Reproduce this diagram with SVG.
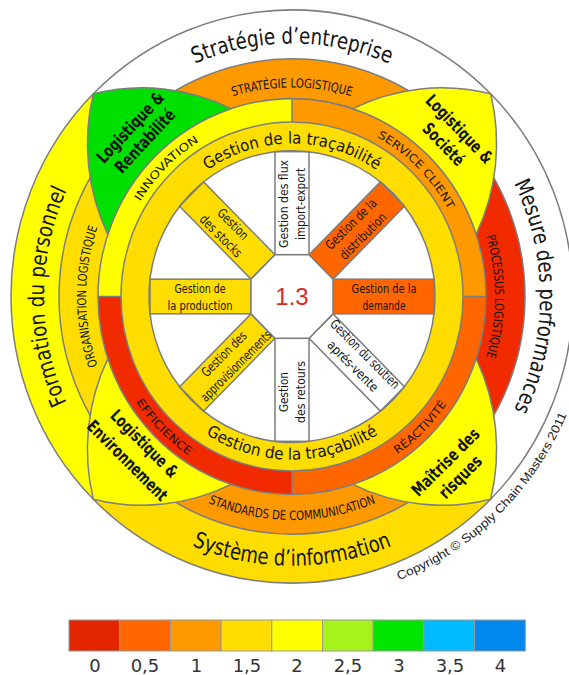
<svg xmlns="http://www.w3.org/2000/svg" width="569" height="675" viewBox="0 0 569 675">
<style>
.ln{stroke:#7d7d7d;stroke-width:1.5}
.nf{fill:none}
.f{font-family:'Liberation Sans Narrow','DejaVu Sans Condensed','Liberation Sans','DejaVu Sans',sans-serif;font-stretch:condensed;fill:#141414}
.big{font-size:22px}
.band{font-size:12.5px}
.quad{font-size:11px}
.gold{font-size:16px}
.pet{font-size:17px;font-weight:bold}
.sp{font-size:13px}
.lg{font-family:'DejaVu Sans',Verdana,sans-serif;font-size:18px;fill:#333;text-anchor:middle}
</style>
<defs>
<path id="pTop" d="M-214.8,-124 A248,248 0 0 1 214.8,-124"/>
<path id="pRight" d="M124,-214.8 A248,248 0 0 1 124,214.8"/>
<path id="pLeft" d="M-124,214.8 A248,248 0 0 1 -124,-214.8"/>
<path id="pBot" d="M-228.6,132 A264,264 0 0 0 228.6,132"/>
<path id="bTop" d="M-177.5,-102.5 A205,205 0 0 1 177.5,-102.5"/>
<path id="bRight" d="M101.5,-175.8 A203,203 0 0 1 101.5,175.8"/>
<path id="bLeft" d="M-103,178.4 A206,206 0 0 1 -103,-178.4"/>
<path id="bBot" d="M-189.7,109.5 A219,219 0 0 0 189.7,109.5"/>
<path id="qTL" d="M-178,0 A178,178 0 0 1 0,-178"/>
<path id="qTR" d="M0,-178 A178,178 0 0 1 178,0"/>
<path id="qBR" d="M0,187 A187,187 0 0 0 187,0"/>
<path id="qBL" d="M-187,0 A187,187 0 0 0 0,187"/>
<path id="gTop" d="M-150,0 A150,150 0 0 1 150,0"/>
<path id="gBot" d="M-160,0 A160,160 0 0 0 160,0"/>
<path id="cpy" d="M106.8,278.2 A298,298 0 0 0 278.2,106.8"/>
</defs>

<g id="wheel" transform="translate(292,296.5) scale(1,1.02)">
  <g id="outer-ring">
    <circle r="281" fill="#fff"/>
    <path id="formation" fill="#FFFF00" d="M-198.7,198.7 A281,281 0 0 1 -198.7,-198.7 L-164.8,-164.8 A233,233 0 0 0 -164.8,164.8 Z"/>
    <path id="systeme" fill="#FFDD00" d="M198.7,198.7 A281,281 0 0 1 -198.7,198.7 L-164.8,164.8 A233,233 0 0 0 164.8,164.8 Z"/>
  </g>
  <g id="bands">
    <path id="strat-log" fill="#FF9900" d="M-164.8,-164.8 A233,233 0 0 1 164.8,-164.8 L137.2,-137.2 A194,194 0 0 0 -137.2,-137.2 Z"/>
    <path id="processus" fill="#F22A00" d="M164.8,-164.8 A233,233 0 0 1 164.8,164.8 L137.2,137.2 A194,194 0 0 0 137.2,-137.2 Z"/>
    <path id="standards" fill="#FF9900" d="M164.8,164.8 A233,233 0 0 1 -164.8,164.8 L-137.2,137.2 A194,194 0 0 0 137.2,137.2 Z"/>
    <path id="organisation" fill="#FFDD00" d="M-164.8,164.8 A233,233 0 0 1 -164.8,-164.8 L-137.2,-137.2 A194,194 0 0 0 -137.2,137.2 Z"/>
  </g>
  <g id="quadrants">
    <path id="innovation" fill="#FFFF00" d="M-194,0 A194,194 0 0 1 0,-194 L0,-171 A171,171 0 0 0 -171,0 Z"/>
    <path id="service" fill="#FF9900" d="M0,-194 A194,194 0 0 1 194,0 L171,0 A171,171 0 0 0 0,-171 Z"/>
    <path id="reactivite" fill="#FF6600" d="M194,0 A194,194 0 0 1 0,194 L0,171 A171,171 0 0 0 171,0 Z"/>
    <path id="efficience" fill="#F22A00" d="M0,194 A194,194 0 0 1 -194,0 L-171,0 A171,171 0 0 0 0,171 Z"/>
  </g>
  <circle id="tracabilite" r="171" fill="#FFDD00"/>
  <circle id="disk" r="143" fill="#fff"/>
  <g id="spokes" class="ln">
    <rect x="41" y="-17" width="101" height="34" fill="#FF6600"/>
    <rect x="41" y="-17" width="101" height="34" fill="#fff" transform="rotate(45)"/>
    <rect x="41" y="-17" width="101" height="34" fill="#fff" transform="rotate(90)"/>
    <rect x="41" y="-17" width="101" height="34" fill="#FFDD00" transform="rotate(135)"/>
    <rect x="41" y="-17" width="101" height="34" fill="#FFDD00" transform="rotate(180)"/>
    <rect x="41" y="-17" width="101" height="34" fill="#FFDD00" transform="rotate(225)"/>
    <rect x="41" y="-17" width="101" height="34" fill="#fff" transform="rotate(270)"/>
    <rect x="41" y="-17" width="101" height="34" fill="#FF6600" transform="rotate(315)"/>
  </g>
  <polygon id="centre" class="ln" fill="#fff" points="41,17 17,41 -17,41 -41,17 -41,-17 -17,-41 17,-41 41,-17"/>
  <g id="rings" class="ln nf">
    <circle r="281"/><circle r="233"/><circle r="194"/><circle r="171"/><circle r="143"/>
    <path d="M0,-171V-194 M0,171V194 M-171,0H-194 M171,0H194"/>
  </g>
  <g id="petals" class="ln">
    <path id="rentabilite" fill="#00E000" d="M-198.7,-198.7 A204.6,204.6 0 0 1 -60.9,-184.2 A194,194 0 0 0 -184.2,-60.9 A204.6,204.6 0 0 1 -198.7,-198.7 Z"/>
    <path id="societe" fill="#FFFF00" d="M198.7,-198.7 A204.6,204.6 0 0 0 60.9,-184.2 A194,194 0 0 1 184.2,-60.9 A204.6,204.6 0 0 0 198.7,-198.7 Z"/>
    <path id="risques" fill="#FFFF00" d="M198.7,198.7 A204.6,204.6 0 0 1 60.9,184.2 A194,194 0 0 0 184.2,60.9 A204.6,204.6 0 0 1 198.7,198.7 Z"/>
    <path id="environnement" fill="#FFFF00" d="M-198.7,198.7 A204.6,204.6 0 0 0 -60.9,184.2 A194,194 0 0 1 -184.2,60.9 A204.6,204.6 0 0 0 -198.7,198.7 Z"/>
  </g>
  <g id="arc-labels" class="f" text-anchor="middle">
    <text class="big"><textPath href="#pTop" startOffset="50%" textLength="200" lengthAdjust="spacingAndGlyphs">Stratégie d’entreprise</textPath></text>
    <text class="big"><textPath href="#pRight" startOffset="50%" textLength="230" lengthAdjust="spacingAndGlyphs">Mesure des performances</textPath></text>
    <text class="big"><textPath href="#pLeft" startOffset="50%" textLength="215" lengthAdjust="spacingAndGlyphs">Formation du personnel</textPath></text>
    <text class="big"><textPath href="#pBot" startOffset="50%" textLength="205" lengthAdjust="spacingAndGlyphs">Système d’information</textPath></text>
    <text class="band"><textPath href="#bTop" startOffset="50%" textLength="120" lengthAdjust="spacingAndGlyphs">STRATÉGIE LOGISTIQUE</textPath></text>
    <text class="band"><textPath href="#bRight" startOffset="50%" textLength="120" lengthAdjust="spacingAndGlyphs">PROCESSUS LOGISTIQUE</textPath></text>
    <text class="band"><textPath href="#bLeft" startOffset="50%" textLength="138" lengthAdjust="spacingAndGlyphs">ORGANISATION LOGISTIQUE</textPath></text>
    <text class="band"><textPath href="#bBot" startOffset="50%" textLength="172" lengthAdjust="spacingAndGlyphs">STANDARDS DE COMMUNICATION</textPath></text>
    <text class="quad"><textPath href="#qTL" startOffset="50%" textLength="84" lengthAdjust="spacingAndGlyphs">INNOVATION</textPath></text>
    <text class="quad"><textPath href="#qTR" startOffset="50%" textLength="102" lengthAdjust="spacingAndGlyphs">SERVICE CLIENT</textPath></text>
    <text class="quad"><textPath href="#qBR" startOffset="50%" textLength="70" lengthAdjust="spacingAndGlyphs">RÉACTIVITÉ</textPath></text>
    <text class="quad"><textPath href="#qBL" startOffset="50%" textLength="75" lengthAdjust="spacingAndGlyphs">EFFICIENCE</textPath></text>
    <text class="gold"><textPath href="#gTop" startOffset="50%" textLength="180" lengthAdjust="spacingAndGlyphs">Gestion de la traçabilité</textPath></text>
    <text class="gold"><textPath href="#gBot" startOffset="50%" textLength="182" lengthAdjust="spacingAndGlyphs">Gestion de la traçabilité</textPath></text>
  </g>
  <text style="font-family:'Liberation Sans','DejaVu Sans',sans-serif;font-size:12px;fill:#222"><textPath href="#cpy" textLength="240" lengthAdjust="spacingAndGlyphs">Copyright © Supply Chain Masters 2011</textPath></text>
</g>

<g id="petal-labels" class="f pet" text-anchor="middle">
  <text transform="translate(137.5,134) rotate(-47)"><tspan x="0" y="-4" textLength="90" lengthAdjust="spacingAndGlyphs">Logistique &amp;</tspan><tspan x="0" y="16" textLength="80" lengthAdjust="spacingAndGlyphs">Rentabilité</tspan></text>
  <text transform="translate(451.5,136.5) rotate(46)"><tspan x="0" y="-5" textLength="88" lengthAdjust="spacingAndGlyphs">Logistique &amp;</tspan><tspan x="0" y="17" textLength="52" lengthAdjust="spacingAndGlyphs">Société</tspan></text>
  <text transform="translate(452.5,469) rotate(-45)"><tspan x="0" y="-4" textLength="88" lengthAdjust="spacingAndGlyphs">Maîtrise des</tspan><tspan x="0" y="17" textLength="53" lengthAdjust="spacingAndGlyphs">risques</tspan></text>
  <text transform="translate(136,452) rotate(45)"><tspan x="0" y="-6" textLength="88" lengthAdjust="spacingAndGlyphs">Logistique &amp;</tspan><tspan x="0" y="18" textLength="106" lengthAdjust="spacingAndGlyphs">Environnement</tspan></text>
</g>

<g id="spoke-labels" class="f sp" text-anchor="middle">
  <text transform="translate(384,296.5)"><tspan x="0" y="-4" textLength="65" lengthAdjust="spacingAndGlyphs">Gestion de la</tspan><tspan x="0" y="13" textLength="43" lengthAdjust="spacingAndGlyphs">demande</tspan></text>
  <text transform="translate(200,296.5)"><tspan x="0" y="-4" textLength="51" lengthAdjust="spacingAndGlyphs">Gestion de</tspan><tspan x="0" y="13" textLength="65" lengthAdjust="spacingAndGlyphs">la production</tspan></text>
  <text transform="translate(292,204) rotate(-90)"><tspan x="0" y="-4" textLength="88" lengthAdjust="spacingAndGlyphs">Gestion des flux</tspan><tspan x="0" y="13" textLength="72" lengthAdjust="spacingAndGlyphs">import-export</tspan></text>
  <text transform="translate(292,392) rotate(-90)"><tspan x="0" y="-4" textLength="40" lengthAdjust="spacingAndGlyphs">Gestion</tspan><tspan x="0" y="13" textLength="62" lengthAdjust="spacingAndGlyphs">des retours</tspan></text>
  <text transform="translate(357,230) rotate(-45)"><tspan x="0" y="-4" textLength="66" lengthAdjust="spacingAndGlyphs">Gestion de la</tspan><tspan x="0" y="13" textLength="60" lengthAdjust="spacingAndGlyphs">distribution</tspan></text>
  <text transform="translate(230,360) rotate(-45)"><tspan x="0" y="-4" textLength="58" lengthAdjust="spacingAndGlyphs">Gestion des</tspan><tspan x="0" y="13" textLength="94" lengthAdjust="spacingAndGlyphs">approvisionnements</tspan></text>
  <text transform="translate(227,230) rotate(45)"><tspan x="0" y="-4" textLength="38" lengthAdjust="spacingAndGlyphs">Gestion</tspan><tspan x="0" y="13" textLength="54" lengthAdjust="spacingAndGlyphs">des stocks</tspan></text>
  <text transform="translate(359,360) rotate(45)"><tspan x="0" y="-4" textLength="92" lengthAdjust="spacingAndGlyphs">Gestion du soutien</tspan><tspan x="0" y="13" textLength="66" lengthAdjust="spacingAndGlyphs">aprés-vente</tspan></text>
</g>
<text id="score" x="292" y="305" text-anchor="middle" style="font-family:'Liberation Sans',Arial,sans-serif;font-size:24px;fill:#DA2A2A">1.3</text>

<g id="legend">
  <g class="ln" style="stroke:#999;stroke-width:1">
    <rect x="69" y="620" width="50.7" height="31" fill="#E22400"/>
    <rect x="119.7" y="620" width="50.7" height="31" fill="#FF6600"/>
    <rect x="170.4" y="620" width="50.7" height="31" fill="#FF9900"/>
    <rect x="221.1" y="620" width="50.7" height="31" fill="#FFDD00"/>
    <rect x="271.8" y="620" width="50.7" height="31" fill="#FFFF00"/>
    <rect x="322.5" y="620" width="50.7" height="31" fill="#A6F21C"/>
    <rect x="373.2" y="620" width="50.7" height="31" fill="#00E600"/>
    <rect x="423.9" y="620" width="50.7" height="31" fill="#00BBFF"/>
    <rect x="474.6" y="620" width="50.7" height="31" fill="#0088EE"/>
  </g>
  <text class="lg" x="95" y="672">0</text>
  <text class="lg" x="145" y="672">0,5</text>
  <text class="lg" x="196.5" y="672">1</text>
  <text class="lg" x="247" y="672">1,5</text>
  <text class="lg" x="297" y="672">2</text>
  <text class="lg" x="348" y="672">2,5</text>
  <text class="lg" x="399" y="672">3</text>
  <text class="lg" x="450" y="672">3,5</text>
  <text class="lg" x="500.5" y="672">4</text>
</g>
</svg>
